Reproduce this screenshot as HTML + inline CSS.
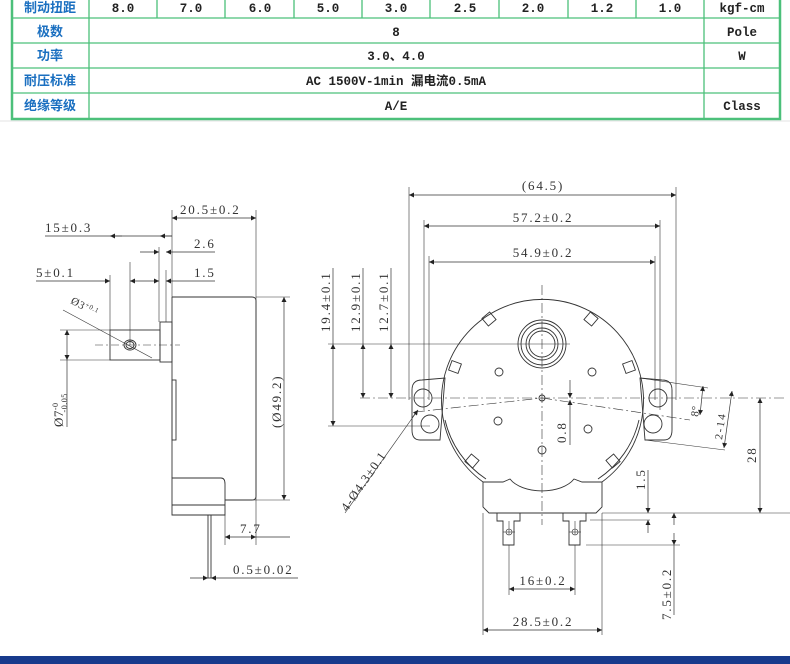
<!DOCTYPE html>
<html><head><meta charset="utf-8"><style>
html,body{margin:0;padding:0;background:#fff;}
body{width:790px;height:664px;overflow:hidden;position:relative;}
svg{position:absolute;left:0;top:0;}
</style></head><body>
<svg width="790" height="664" viewBox="0 0 790 664" xmlns="http://www.w3.org/2000/svg">
<defs>
<marker id="a" viewBox="0 0 10 10" refX="10" refY="5" markerWidth="9" markerHeight="5" orient="auto-start-reverse" markerUnits="userSpaceOnUse"><path d="M0,0 L10,5 L0,10 z" fill="#222"/></marker>
</defs>
<!-- table -->
<g stroke="#e3e3e3" stroke-width="1">
<line x1="0" y1="121" x2="790" y2="121"/>
</g>
<rect x="12" y="-2" width="768" height="121" fill="none" stroke="#4cc07a" stroke-width="2.5"/>
<g stroke="#4cc07a" stroke-width="1.3">
<line x1="12" y1="18" x2="780" y2="18"/>
<line x1="12" y1="43" x2="780" y2="43"/>
<line x1="12" y1="68" x2="780" y2="68"/>
<line x1="12" y1="93" x2="780" y2="93"/>
<line x1="89" y1="-2" x2="89" y2="119"/>
<line x1="704" y1="-2" x2="704" y2="119"/>
<line x1="157" y1="-2" x2="157" y2="18"/><line x1="225" y1="-2" x2="225" y2="18"/>
<line x1="294" y1="-2" x2="294" y2="18"/><line x1="362" y1="-2" x2="362" y2="18"/>
<line x1="430" y1="-2" x2="430" y2="18"/><line x1="499" y1="-2" x2="499" y2="18"/>
<line x1="568" y1="-2" x2="568" y2="18"/><line x1="636" y1="-2" x2="636" y2="18"/>
</g>
<g font-family="Liberation Sans, 'Noto Sans CJK SC', sans-serif" font-size="13" font-weight="bold" fill="#1a6fc0" text-anchor="middle">
<text x="50" y="12">制动扭距</text>
<text x="50" y="36">极数</text>
<text x="50" y="60">功率</text>
<text x="50" y="85">耐压标准</text>
<text x="50" y="110">绝缘等级</text>
</g>
<g font-family="Liberation Mono, 'Noto Sans CJK SC', monospace" font-size="12.5" font-weight="bold" fill="#222" text-anchor="middle">
<text x="123" y="12">8.0</text><text x="191" y="12">7.0</text><text x="260" y="12">6.0</text>
<text x="328" y="12">5.0</text><text x="396" y="12">3.0</text><text x="465" y="12">2.5</text>
<text x="533" y="12">2.0</text><text x="602" y="12">1.2</text><text x="670" y="12">1.0</text>
<text x="742" y="12">kgf-cm</text>
<text x="396" y="36">8</text><text x="742" y="36">Pole</text>
<text x="396" y="60">3.0、4.0</text><text x="742" y="60">W</text>
<text x="396" y="85">AC 1500V-1min 漏电流0.5mA</text>
<text x="396" y="110">A/E</text><text x="742" y="110">Class</text>
</g>

<g fill="none" stroke="#333" stroke-width="0.9">
<!-- LEFT VIEW -->
<path d="M172,297 H252 Q256,297 256,301 V496 Q256,500 252,500 H225"/>
<line x1="172" y1="297" x2="172" y2="478"/>
<rect x="160" y="322" width="12" height="40"/>
<rect x="110" y="330" width="50" height="30"/>
<ellipse cx="130" cy="345" rx="6" ry="5"/><ellipse cx="130" cy="345" rx="4" ry="3.5"/>
<rect x="172" y="380" width="4" height="60"/>
<path d="M172,478 H221 Q225,478 225,484 V515 H172 Z"/>
<line x1="172" y1="505" x2="225" y2="505"/>
<rect x="208" y="515" width="3" height="63"/>
<line x1="95" y1="345" x2="180" y2="345" stroke-dasharray="8,3,2,3" stroke-width="0.6"/>
<line x1="130" y1="262" x2="130" y2="345" stroke-width="0.6"/>
<line x1="110" y1="275" x2="110" y2="330" stroke-width="0.6"/>
<line x1="159" y1="247" x2="159" y2="322" stroke-width="0.6"/>
<line x1="166" y1="270" x2="166" y2="322" stroke-width="0.6"/>
<line x1="172" y1="210" x2="172" y2="297" stroke-width="0.6"/>
<line x1="256" y1="210" x2="256" y2="545" stroke-width="0.6"/>
<line x1="225" y1="515" x2="225" y2="545" stroke-width="0.6"/>
<line x1="60" y1="330" x2="110" y2="330" stroke-width="0.6"/>
<line x1="60" y1="360" x2="110" y2="360" stroke-width="0.6"/>
<line x1="256" y1="297" x2="290" y2="297" stroke-width="0.6"/>
<line x1="225" y1="500" x2="290" y2="500" stroke-width="0.6"/>
<line x1="63" y1="310" x2="152" y2="358" stroke-width="0.6"/>
</g>
<g stroke="#333" stroke-width="0.7" fill="none">
<line x1="172" y1="218" x2="256" y2="218" marker-start="url(#a)" marker-end="url(#a)"/>
<line x1="45" y1="236" x2="172" y2="236"/>
<line x1="172" y1="236" x2="160" y2="236" marker-end="url(#a)"/>
<line x1="110" y1="236" x2="122" y2="236" marker-start="url(#a)"/>
<line x1="140" y1="252" x2="159" y2="252" marker-end="url(#a)"/>
<line x1="186" y1="252" x2="166" y2="252" marker-end="url(#a)"/>
<line x1="186" y1="252" x2="215" y2="252"/>
<line x1="36" y1="281" x2="110" y2="281" marker-end="url(#a)"/>
<line x1="130" y1="281" x2="159" y2="281" marker-start="url(#a)" marker-end="url(#a)"/>
<line x1="186" y1="281" x2="166" y2="281" marker-end="url(#a)"/>
<line x1="186" y1="281" x2="215" y2="281"/>
<line x1="284" y1="297" x2="284" y2="500" marker-start="url(#a)" marker-end="url(#a)"/>
<line x1="67" y1="330" x2="67" y2="360" marker-start="url(#a)" marker-end="url(#a)"/>
<line x1="67" y1="360" x2="67" y2="427"/>
<line x1="225" y1="537" x2="256" y2="537" marker-start="url(#a)" marker-end="url(#a)"/>
<line x1="256" y1="537" x2="290" y2="537"/>
<line x1="190" y1="578" x2="208" y2="578" marker-end="url(#a)"/>
<line x1="229" y1="578" x2="211" y2="578" marker-end="url(#a)"/>
<line x1="229" y1="578" x2="298" y2="578"/>
</g>
<g font-family="Liberation Serif, serif" font-size="13" fill="#333" letter-spacing="1.8">
<text x="180" y="214">20.5±0.2</text>
<text x="45" y="232">15±0.3</text>
<text x="194" y="248">2.6</text>
<text x="36" y="277">5±0.1</text>
<text x="194" y="277">1.5</text>
<text x="240" y="533">7.7</text>
<text x="233" y="574">0.5±0.02</text>
<text transform="translate(281,428) rotate(-90)">(Ø49.2)</text>
<text transform="translate(63,427) rotate(-90)" letter-spacing="0.5">Ø7<tspan font-size="8" dy="-5">-0</tspan><tspan font-size="8" dx="-10" dy="9">-0.05</tspan></text>
<text transform="translate(70,303) rotate(28)" font-size="11" letter-spacing="0.5">Ø3<tspan font-size="7" dy="-4">+0.1</tspan></text>
</g>

<!-- RIGHT VIEW -->
<g fill="none" stroke="#333" stroke-width="0.9">
<path d="M483,482 A101,101 0 1 1 602,482"/>
<path d="M486,479 A97,97 0 0 1 445,420"/>
<path d="M598,479 A97,97 0 0 0 639,420"/>
<path d="M412,390 Q412,380 422,380 L445,378 L440,440 L420,440 Q412,440 412,430 Z"/>
<path d="M672,390 Q672,380 662,380 L640,378 L645,440 L664,440 Q672,440 672,430 Z"/>
<circle cx="423" cy="398" r="9"/><circle cx="430" cy="424" r="9"/>
<circle cx="658" cy="398" r="9"/><circle cx="653" cy="424" r="9"/>
<circle cx="542" cy="344" r="24"/><circle cx="542" cy="344" r="21"/><circle cx="542" cy="344" r="16"/><circle cx="542" cy="344" r="13"/>
<circle cx="542" cy="398" r="3"/>
<circle cx="499" cy="372" r="4"/><circle cx="592" cy="372" r="4"/>
<circle cx="498" cy="421" r="4"/><circle cx="588" cy="429" r="4"/><circle cx="542" cy="450" r="4"/>
<path d="M483,482 H503 L510,479 A35,20 0 0 0 574,479 L582,482 H602 V507 L596,513 H489 L483,507 Z"/>
<path d="M497,513 V521 L503,521 V545 H514 V521 L520,521 V513"/>
<path d="M563,513 V521 L569,521 V545 H580 V521 L586,521 V513"/>
<rect x="484" y="314" width="10" height="10" transform="rotate(-40 489 319)"/>
<rect x="586" y="314" width="10" height="10" transform="rotate(40 591 319)"/>
<rect x="450" y="362" width="10" height="10" transform="rotate(-70 455 367)"/>
<rect x="624" y="362" width="10" height="10" transform="rotate(70 629 367)"/>
<rect x="467" y="456" width="10" height="10" transform="rotate(40 472 461)"/>
<rect x="608" y="456" width="10" height="10" transform="rotate(-40 613 461)"/>
</g>
<g fill="none" stroke="#333" stroke-width="0.6">
<line x1="360" y1="398" x2="785" y2="398" stroke-dasharray="10,3,2,3"/>
<line x1="542" y1="285" x2="542" y2="525" stroke-dasharray="10,3,2,3"/>
<line x1="415" y1="412" x2="542" y2="398" stroke-dasharray="10,3,2,3"/>
<line x1="542" y1="398" x2="690" y2="420" stroke-dasharray="10,3,2,3"/>
<line x1="409" y1="187" x2="409" y2="400"/>
<line x1="676" y1="187" x2="676" y2="400"/>
<line x1="424" y1="220" x2="424" y2="410"/>
<line x1="660" y1="220" x2="660" y2="410"/>
<line x1="429" y1="256" x2="429" y2="400"/>
<line x1="655" y1="256" x2="655" y2="400"/>
<line x1="328" y1="344" x2="570" y2="344"/>
<line x1="328" y1="426" x2="430" y2="426"/>
<line x1="602" y1="513" x2="790" y2="513"/>
<line x1="586" y1="545" x2="680" y2="545"/>
<line x1="590" y1="520" x2="650" y2="520"/>
<line x1="483" y1="513" x2="483" y2="635"/>
<line x1="602" y1="513" x2="602" y2="635"/>
<line x1="509" y1="545" x2="509" y2="595"/>
<line x1="575" y1="545" x2="575" y2="595"/>
<line x1="509" y1="535" x2="509" y2="521"/><line x1="503" y1="532" x2="515" y2="532"/><circle cx="509" cy="532" r="3"/>
<line x1="575" y1="535" x2="575" y2="521"/><line x1="569" y1="532" x2="581" y2="532"/><circle cx="575" cy="532" r="3"/>
<line x1="640" y1="378" x2="708" y2="388"/>
<line x1="645" y1="440" x2="725" y2="450"/>
<line x1="345" y1="513" x2="418" y2="410"/>
</g>
<g stroke="#333" stroke-width="0.7" fill="none">
<line x1="409" y1="195" x2="676" y2="195" marker-start="url(#a)" marker-end="url(#a)"/>
<line x1="424" y1="226" x2="660" y2="226" marker-start="url(#a)" marker-end="url(#a)"/>
<line x1="429" y1="262" x2="655" y2="262" marker-start="url(#a)" marker-end="url(#a)"/>
<line x1="333" y1="344" x2="333" y2="426" marker-start="url(#a)" marker-end="url(#a)"/>
<line x1="363" y1="344" x2="363" y2="398" marker-start="url(#a)" marker-end="url(#a)"/>
<line x1="391" y1="344" x2="391" y2="398" marker-start="url(#a)" marker-end="url(#a)"/>
<line x1="363" y1="268" x2="363" y2="344"/><line x1="391" y1="268" x2="391" y2="344"/><line x1="333" y1="268" x2="333" y2="344"/>
<line x1="760" y1="398" x2="760" y2="513" marker-start="url(#a)" marker-end="url(#a)"/>
<line x1="674" y1="525" x2="674" y2="513" marker-end="url(#a)"/>
<line x1="674" y1="533" x2="674" y2="545" marker-end="url(#a)"/>
<line x1="674" y1="545" x2="674" y2="615"/>
<line x1="648" y1="500" x2="648" y2="513" marker-end="url(#a)"/>
<line x1="648" y1="533" x2="648" y2="520" marker-end="url(#a)"/>
<line x1="648" y1="470" x2="648" y2="500"/>
<line x1="570" y1="380" x2="570" y2="398" marker-end="url(#a)"/>
<line x1="570" y1="412" x2="570" y2="400" marker-end="url(#a)"/>
<line x1="570" y1="412" x2="570" y2="445"/>
<line x1="509" y1="589" x2="575" y2="589" marker-start="url(#a)" marker-end="url(#a)"/>
<line x1="483" y1="630" x2="602" y2="630" marker-start="url(#a)" marker-end="url(#a)"/>
<line x1="703" y1="386" x2="700" y2="415" marker-start="url(#a)" marker-end="url(#a)"/>
<line x1="732" y1="391" x2="724" y2="448" marker-start="url(#a)" marker-end="url(#a)"/>
<line x1="418" y1="410" x2="412" y2="418" marker-start="url(#a)"/>
</g>
<g font-family="Liberation Serif, serif" font-size="13" fill="#333" letter-spacing="1.8">
<text x="543" y="190" text-anchor="middle">(64.5)</text>
<text x="543" y="222" text-anchor="middle">57.2±0.2</text>
<text x="543" y="257" text-anchor="middle">54.9±0.2</text>
<text x="543" y="585" text-anchor="middle">16±0.2</text>
<text x="543" y="626" text-anchor="middle">28.5±0.2</text>
<text transform="translate(330,332) rotate(-90)">19.4±0.1</text>
<text transform="translate(360,332) rotate(-90)">12.9±0.1</text>
<text transform="translate(388,332) rotate(-90)">12.7±0.1</text>
<text transform="translate(566,443) rotate(-90)">0.8</text>
<text transform="translate(645,490) rotate(-90)">1.5</text>
<text transform="translate(756,463) rotate(-90)">28</text>
<text transform="translate(671,620) rotate(-90)">7.5±0.2</text>
<text transform="translate(698,417) rotate(-82)" font-size="11" letter-spacing="0.5">8°</text>
<text transform="translate(722,440) rotate(-82)" font-size="11">2-14</text>
<text transform="translate(347,512) rotate(-55)" font-size="12.5" letter-spacing="1.2">4-Ø4.3±0.1</text>
</g>
<rect x="0" y="656" width="790" height="8" fill="#173a8c"/>
</svg>
</body></html>
